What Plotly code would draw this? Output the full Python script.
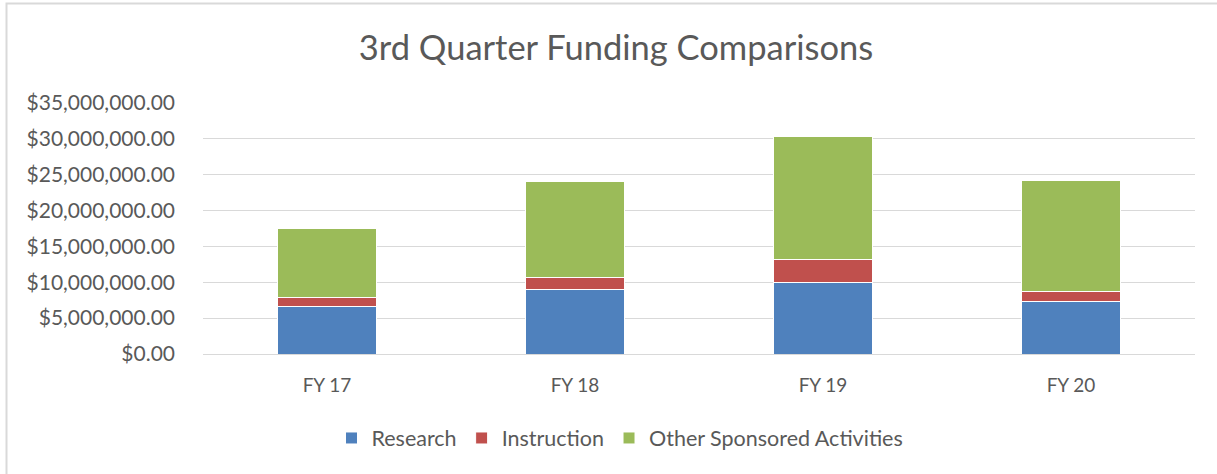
import plotly.graph_objects as go

years = ["FY 17", "FY 18", "FY 19", "FY 20"]
research = [6680000, 9050000, 10030000, 7330000]
instruction = [1160000, 1620000, 3200000, 1390000]
other = [9610000, 13330000, 17070000, 15460000]

tick_vals = [0, 5e6, 10e6, 15e6, 20e6, 25e6, 30e6, 35e6]
tick_text = ["$0.00", "$5,000,000.00", "$10,000,000.00", "$15,000,000.00",
             "$20,000,000.00", "$25,000,000.00", "$30,000,000.00", "$35,000,000.00"]

font = "Lato, Calibri, sans-serif"
grey = "#595959"

fig = go.Figure()
fig.add_trace(go.Bar(x=years, y=research, name="Research", marker_color="#4F81BD",
                     marker_line=dict(color="white", width=1)))
fig.add_trace(go.Bar(x=years, y=instruction, name="Instruction", marker_color="#C0504D",
                     marker_line=dict(color="white", width=1)))
fig.add_trace(go.Bar(x=years, y=other, name="Other Sponsored Activities", marker_color="#9BBB59",
                     marker_line=dict(color="white", width=1)))

ml, mr, mt, mb = 203, 22, 103, 120
pw = 1217 - ml - mr
ph = 474 - mt - mb

fig.update_layout(
    barmode="stack",
    bargap=0.6,
    width=1217, height=474,
    margin=dict(l=ml, r=mr, t=mt, b=mb),
    paper_bgcolor="white",
    plot_bgcolor="white",
    font=dict(family=font, color=grey, size=20),
    title=dict(text="3rd Quarter Funding Comparisons", x=(616 - ml) / pw, xanchor="center",
               xref="paper", y=1 - 48 / 474, yanchor="middle",
               font=dict(size=34.5, color=grey, family=font)),
    legend=dict(orientation="h", x=(620 - ml) / pw, xanchor="center", y=-(438 - 474 + mb) / ph,
                yanchor="middle", font=dict(size=21.5, color=grey), traceorder="normal"),
    xaxis=dict(showline=True, linecolor="#D9D9D9", linewidth=1, ticks="",
               tickfont=dict(size=19, color=grey), ticklabelstandoff=14),
    yaxis=dict(range=[0, 35e6], tickvals=tick_vals, ticktext=tick_text,
               showgrid=True, gridcolor="#D9D9D9", gridwidth=1, zeroline=False,
               tickfont=dict(size=21, color=grey), ticklabelstandoff=27),
    shapes=[dict(type="rect", xref="paper", yref="paper",
                 x0=(6.5 - ml) / pw, x1=(1230 - ml) / pw,
                 y0=-(490 - 474 + mb) / ph, y1=(474 - 3.5 - mb) / ph,
                 line=dict(color="#D9D9D9", width=2), layer="below")],
)

fig.write_html("out.html", config={"displayModeBar": False},
               post_script="document.body.style.margin='0';")
